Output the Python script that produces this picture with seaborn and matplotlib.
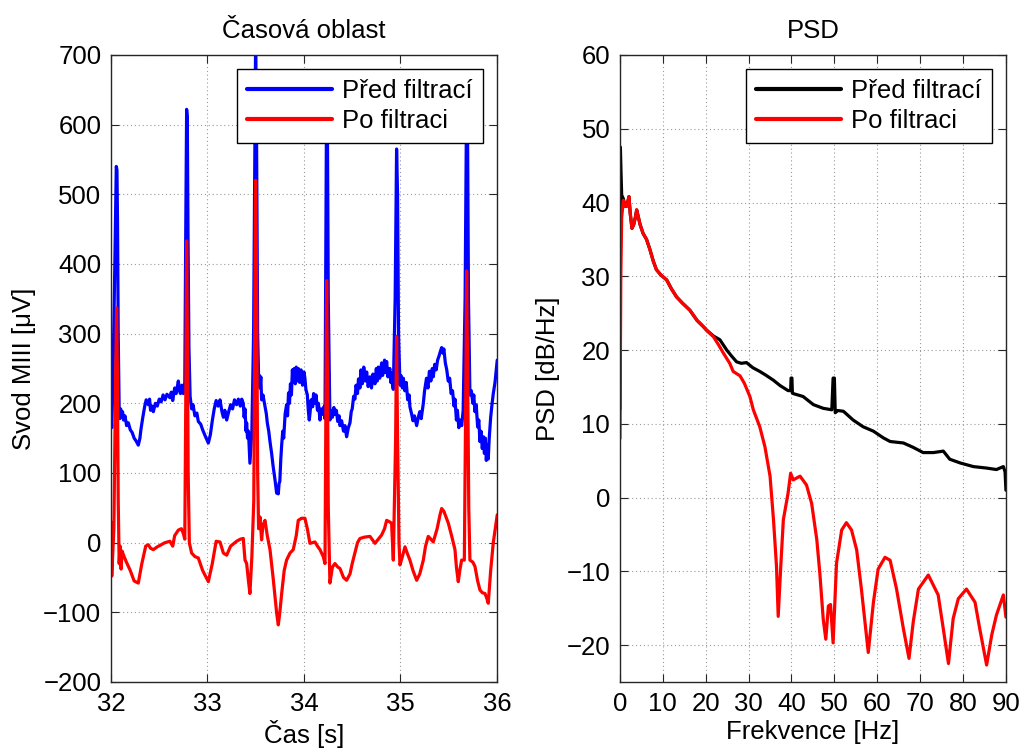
import matplotlib
matplotlib.use("Agg")
import matplotlib.pyplot as plt
import seaborn as sns
import pandas as pd

# ---------------- data: time domain (time [s], value [uV]) ----------------
pred_samples = [
    (32.000, 185), (32.008, 165), (32.020, 230), (32.040, 400), (32.055, 540), (32.062, 535),
    (32.068, 460), (32.075, 300), (32.085, 190), (32.092, 178), (32.100, 192), (32.111, 182),
    (32.120, 188), (32.130, 176), (32.145, 182), (32.162, 168), (32.180, 172), (32.200, 162),
    (32.220, 158), (32.240, 150), (32.260, 146), (32.283, 140), (32.300, 150), (32.310, 162),
    (32.330, 180), (32.350, 196), (32.365, 205), (32.387, 198), (32.400, 206), (32.410, 190),
    (32.425, 196), (32.439, 188), (32.460, 200), (32.480, 196), (32.500, 206), (32.520, 202),
    (32.540, 212), (32.560, 205), (32.580, 213), (32.611, 208), (32.625, 216), (32.640, 204),
    (32.660, 222), (32.675, 214), (32.698, 232), (32.710, 218), (32.720, 214), (32.735, 226),
    (32.750, 214), (32.765, 230), (32.775, 450), (32.784, 622), (32.791, 610), (32.798, 450),
    (32.808, 280), (32.820, 210), (32.836, 192), (32.850, 198), (32.870, 182), (32.890, 186),
    (32.905, 174), (32.930, 170), (32.950, 162), (32.980, 152), (33.009, 143), (33.030, 155),
    (33.050, 175), (33.070, 192), (33.090, 204), (33.110, 196), (33.130, 205), (33.150, 188),
    (33.165, 180), (33.180, 190), (33.199, 176), (33.220, 188), (33.240, 198), (33.260, 192),
    (33.280, 205), (33.302, 198), (33.320, 206), (33.340, 196), (33.355, 206), (33.371, 200),
    (33.380, 180), (33.389, 192), (33.400, 160), (33.406, 172), (33.415, 150), (33.425, 160),
    (33.440, 114), (33.460, 160), (33.478, 300), (33.490, 550), (33.499, 720), (33.508, 600),
    (33.520, 300), (33.532, 225), (33.538, 240), (33.544, 222), (33.553, 238), (33.561, 205),
    (33.575, 212), (33.596, 196), (33.610, 185), (33.620, 172), (33.635, 160), (33.648, 145),
    (33.665, 128), (33.680, 110), (33.700, 90), (33.717, 71), (33.725, 80), (33.734, 70),
    (33.742, 85), (33.750, 88), (33.760, 120), (33.769, 140), (33.780, 160), (33.790, 150),
    (33.805, 185), (33.820, 198), (33.830, 182), (33.840, 215), (33.850, 200), (33.860, 228),
    (33.870, 212), (33.880, 248), (33.889, 232), (33.900, 250), (33.910, 228), (33.920, 252),
    (33.930, 232), (33.941, 250), (33.955, 230), (33.970, 248), (33.985, 226), (34.000, 245),
    (34.010, 236), (34.020, 220), (34.035, 212), (34.045, 190), (34.055, 176), (34.062, 185),
    (34.075, 205), (34.090, 195), (34.100, 214), (34.114, 200), (34.125, 212), (34.140, 190),
    (34.150, 200), (34.166, 176), (34.180, 192), (34.200, 184), (34.210, 196), (34.218, 178),
    (34.228, 450), (34.235, 660), (34.243, 600), (34.252, 350), (34.269, 176), (34.280, 190),
    (34.295, 180), (34.310, 194), (34.321, 184), (34.335, 190), (34.350, 174), (34.365, 182),
    (34.373, 168), (34.390, 175), (34.410, 160), (34.425, 168), (34.442, 152), (34.460, 165),
    (34.477, 172), (34.490, 188), (34.500, 192), (34.515, 210), (34.528, 206), (34.540, 226),
    (34.555, 214), (34.565, 235), (34.580, 222), (34.590, 248), (34.605, 228), (34.620, 252),
    (34.635, 232), (34.650, 245), (34.665, 224), (34.684, 238), (34.700, 222), (34.715, 242),
    (34.736, 228), (34.750, 250), (34.760, 232), (34.770, 252), (34.785, 236), (34.805, 258),
    (34.815, 240), (34.835, 262), (34.845, 244), (34.857, 260), (34.870, 238), (34.890, 250),
    (34.900, 230), (34.908, 244), (34.918, 226), (34.926, 220), (34.945, 350), (34.960, 565),
    (34.970, 500), (34.980, 300), (34.995, 226), (35.005, 240), (35.020, 222), (35.030, 236),
    (35.045, 218), (35.060, 230), (35.075, 205), (35.090, 212), (35.098, 195), (35.115, 185),
    (35.130, 175), (35.145, 182), (35.168, 168), (35.185, 180), (35.200, 188), (35.215, 178),
    (35.237, 200), (35.250, 218), (35.270, 236), (35.285, 222), (35.300, 246), (35.315, 232),
    (35.330, 250), (35.340, 238), (35.355, 256), (35.370, 248), (35.385, 262), (35.400, 268),
    (35.415, 275), (35.427, 280), (35.440, 272), (35.450, 278), (35.465, 258), (35.480, 248),
    (35.495, 232), (35.510, 236), (35.525, 214), (35.540, 218), (35.555, 196), (35.565, 206),
    (35.580, 176), (35.590, 190), (35.605, 165), (35.620, 176), (35.635, 168), (35.650, 190),
    (35.670, 350), (35.686, 650), (35.695, 600), (35.705, 350), (35.720, 212), (35.735, 218),
    (35.750, 200), (35.760, 212), (35.772, 188), (35.785, 198), (35.800, 166), (35.812, 176),
    (35.824, 145), (35.835, 160), (35.848, 135), (35.860, 152), (35.870, 128), (35.880, 150),
    (35.890, 118), (35.900, 140), (35.910, 120), (35.920, 150), (35.935, 180), (35.950, 200),
    (35.962, 214), (35.980, 230), (36.003, 262),
]

po_samples = [
    (32.000, 30), (32.008, -48), (32.030, 20), (32.045, 200), (32.058, 337), (32.066, 250),
    (32.075, 60), (32.085, -30), (32.095, -5), (32.105, -38), (32.115, -12), (32.130, -18),
    (32.160, -28), (32.200, -40), (32.240, -55), (32.283, -58), (32.320, -30), (32.360, -5),
    (32.387, -3), (32.410, -8), (32.439, -10), (32.480, -6), (32.520, -3), (32.560, 0),
    (32.611, 2), (32.640, -5), (32.660, 10), (32.698, 18), (32.730, 20), (32.750, 13),
    (32.765, 5), (32.775, 200), (32.784, 433), (32.792, 300), (32.800, 100), (32.812, 0),
    (32.836, -15), (32.870, -20), (32.905, -22), (32.950, -40), (33.009, -56), (33.050, -30),
    (33.090, 2), (33.130, 1), (33.165, -15), (33.199, -18), (33.240, -5), (33.302, 2),
    (33.340, 5), (33.371, 6), (33.389, -25), (33.406, -30), (33.425, -55), (33.440, -73),
    (33.460, -20), (33.480, 60), (33.490, 300), (33.499, 520), (33.508, 400), (33.520, 100),
    (33.530, 20), (33.544, 37), (33.561, 4), (33.575, 25), (33.596, 32), (33.620, 10),
    (33.648, -10), (33.680, -50), (33.717, -101), (33.734, -118), (33.750, -100), (33.769, -73),
    (33.795, -40), (33.820, -25), (33.855, -15), (33.889, -10), (33.920, 10), (33.941, 32),
    (33.975, 35), (34.010, 35), (34.035, 20), (34.062, -1), (34.090, 0), (34.114, 1),
    (34.140, -5), (34.166, -10), (34.200, -20), (34.218, -30), (34.228, 200), (34.235, 376),
    (34.243, 250), (34.252, 50), (34.269, -58), (34.295, -35), (34.321, -30), (34.350, -35),
    (34.373, -37), (34.410, -50), (34.442, -54), (34.477, -45), (34.500, -30), (34.528, -15),
    (34.555, 0), (34.580, 6), (34.630, 8), (34.684, 9), (34.736, -1), (34.770, 5),
    (34.805, 11), (34.835, 20), (34.857, 32), (34.885, 30), (34.908, 28), (34.926, -25),
    (34.950, 150), (34.960, 296), (34.970, 150), (34.985, 0), (34.995, -32), (35.020, -20),
    (35.047, -6), (35.070, -15), (35.098, -25), (35.130, -40), (35.168, -54), (35.200, -45),
    (35.237, -25), (35.260, -5), (35.288, 9), (35.315, 5), (35.340, 1), (35.380, 20),
    (35.410, 40), (35.427, 49), (35.450, 45), (35.496, 28), (35.530, 10), (35.565, -10),
    (35.580, -35), (35.599, -56), (35.615, -40), (35.634, -25), (35.662, -25), (35.676, 200),
    (35.686, 390), (35.696, 250), (35.708, 50), (35.720, -25), (35.750, -28), (35.772, -34),
    (35.800, -55), (35.824, -68), (35.850, -72), (35.876, -73), (35.895, -80), (35.910, -87),
    (35.935, -40), (35.962, 0), (36.003, 40),
]

# ---------------- data: PSD (frequency [Hz], PSD [dB/Hz]) ----------------
f_po = [0, 0.2, 0.4, 0.8, 1.2, 1.6, 2.1, 2.4, 2.8, 3.2, 3.6, 3.9, 4.3, 4.7, 5.4, 6.2, 7.0,
        7.8, 8.5, 9.5, 10.9, 12.0, 13.2, 14.5, 16.3, 18.0, 19.4, 20.5, 21.8, 23.0, 24.1,
        25.6, 26.4, 28.0, 29.0, 30.3, 31.1, 32.6, 33.8, 35.0, 35.8, 36.5, 36.9, 37.5, 38.1,
        39.2, 39.8, 40.4, 42.0, 43.5, 44.7, 45.9, 46.6, 47.4, 48.0, 48.6, 49.1, 49.7, 50.5,
        51.7, 52.8, 54.0, 55.2, 56.3, 57.9, 59.1, 60.2, 61.8, 63.0, 64.5, 66.1, 67.4, 68.4,
        69.6, 71.9, 74.2, 75.4, 76.6, 77.7, 78.9, 80.8, 82.8, 83.9, 85.5, 86.7, 87.8, 89.4, 90.0]
psd_po = [8, 30, 38, 40.3, 39.5, 39.5, 40.8, 38.5, 36.5, 37, 38, 39, 38, 37, 35.8, 35, 33.6,
          32, 30.9, 30.2, 29.5, 28.3, 27.2, 26.4, 25.4, 24, 23.2, 22.5, 21.8, 20.7, 19.6,
          18.2, 17.1, 16.5, 15.5, 13.7, 11.9, 9.6, 6.9, 2.9, -3, -9.3, -16.1, -9.3, -3,
          0.6, 3.3, 2.4, 2.9, 1.7, -0.8, -5.7, -10.2, -16.5, -19.2, -14.7, -14.5, -19.7, -8.9,
          -4.4, -3.4, -4.4, -7.1, -12.4, -21.0, -14.2, -9.7, -8.1, -8.5, -12.4, -17.8, -21.8, -16.8,
          -12.4, -10.5, -13.2, -17.8, -22.5, -16.4, -13.7, -12.4, -14.2, -17.8, -22.7, -18.6, -15.9, -13.2, -16.2]

f_pred = [0, 0.1, 0.25, 0.4, 0.8, 1.2, 1.6, 2.1, 2.4, 2.8, 3.2, 3.6, 3.9, 4.3, 4.7, 5.4, 6.2,
          7.0, 7.8, 8.5, 9.5, 10.9, 12.0, 13.2, 14.5, 16.3, 18.0, 19.4, 20.2, 21.8, 23.3, 24.9,
          26.0, 27.2, 28.3, 29.5, 31.0, 32.6, 34.0, 35.8, 37.3, 39.2, 39.8, 39.9, 40.1, 40.2,
          40.4, 42.7, 45.1, 47.4, 49.4, 49.7, 50.0, 50.2, 50.8, 52.1, 54.4, 56.7, 59.1, 61.4,
          63.0, 66.1, 68.4, 70.7, 73.1, 75.4, 76.9, 79.3, 82.4, 85.5, 87.8, 89.4, 89.8, 90.0]
psd_pred = [12, 47.5, 44, 41, 40.5, 39.5, 39.5, 40.8, 38.5, 36.5, 37, 38, 39, 38, 37, 35.8, 35,
            33.6, 32, 30.9, 30.2, 29.5, 28.3, 27.2, 26.4, 25.4, 24, 23.2, 22.7, 21.9, 21.4, 20,
            19.2, 18.4, 18.2, 18.3, 17.6, 17.1, 16.6, 15.9, 15.2, 14.5, 14.5, 16.2, 16.2, 14.2,
            14.1, 13.7, 12.6, 12.1, 11.9, 16.2, 16.2, 11.5, 11.8, 11.7, 10.5, 9.6, 9.0, 8.1,
            7.6, 7.4, 6.8, 6.1, 6.1, 6.3, 5.2, 4.7, 4.2, 4.0, 3.8, 4.2, 3.5, 1.0]

lbl_pred = "Před filtrací"
lbl_po = "Po filtraci"

t_pred = [p[0] for p in pred_samples]
v_pred = [p[1] for p in pred_samples]
t_po = [p[0] for p in po_samples]
v_po = [p[1] for p in po_samples]

df_time = pd.concat([
    pd.DataFrame({"x": t_pred, "y": v_pred, "s": lbl_pred}),
    pd.DataFrame({"x": t_po, "y": v_po, "s": lbl_po}),
], ignore_index=True)
df_psd = pd.concat([
    pd.DataFrame({"x": f_pred, "y": psd_pred, "s": lbl_pred}),
    pd.DataFrame({"x": f_po, "y": psd_po, "s": lbl_po}),
], ignore_index=True)

sns.set_style("white")
plt.rcParams["font.family"] = ["Liberation Sans", "DejaVu Sans"]
for k in ("text.color", "axes.labelcolor", "xtick.color", "ytick.color"):
    plt.rcParams[k] = "black"
FS = 18.5

fig = plt.figure(figsize=(10.2, 7.52), dpi=100)
ax1 = fig.add_axes([0.1088, 0.0931, 0.3784, 0.8338])
ax2 = fig.add_axes([0.6078, 0.0931, 0.3784, 0.8338])

sns.lineplot(data=df_time, x="x", y="y", hue="s", hue_order=[lbl_pred, lbl_po],
             palette={lbl_pred: "#0000ff", lbl_po: "#ff0000"}, sort=False,
             estimator=None, linewidth=2.3, ax=ax1)
sns.lineplot(data=df_psd, x="x", y="y", hue="s", hue_order=[lbl_pred, lbl_po],
             palette={lbl_pred: "#000000", lbl_po: "#ff0000"}, sort=False,
             estimator=None, linewidth=2.3, ax=ax2)

def style(ax, xlim, ylim, xticks, yticks, title, xlabel, ylabel):
    ax.set_xlim(*xlim)
    ax.set_ylim(*ylim)
    ax.set_xticks(xticks)
    ax.set_yticks(yticks)
    ax.set_title(title, fontsize=FS, pad=12, color="black")
    ax.set_xlabel(xlabel, fontsize=FS, labelpad=3, color="black")
    ax.set_ylabel(ylabel, fontsize=FS, labelpad=5, color="black")
    ax.grid(True, linestyle=(0, (1, 2.5)), color="#9a9a9a", linewidth=0.8)
    ax.tick_params(direction="in", length=6, width=0.8, labelsize=FS, pad=7,
                   top=True, right=True, bottom=True, left=True,
                   color="#262626", labelcolor="black")
    for sp in ax.spines.values():
        sp.set_color("#262626")
        sp.set_linewidth(1.0)
        sp.set_visible(True)
    leg = ax.legend(loc="upper right", fontsize=FS, handlelength=3.3, handletextpad=0.4,
                    borderpad=0.4, labelspacing=0.2, borderaxespad=0.55,
                    fancybox=False, framealpha=1, edgecolor="black")
    leg.get_frame().set_linewidth(1.0)
    for ln in leg.get_lines():
        ln.set_linewidth(3.0)

style(ax1, (32, 36), (-200, 700), [32, 33, 34, 35, 36], list(range(-200, 701, 100)),
      "Časová oblast", "Čas [s]", "Svod MIII [μV]")
style(ax2, (0, 90), (-25, 60), list(range(0, 91, 10)), list(range(-20, 61, 10)),
      "PSD", "Frekvence [Hz]", "PSD [dB/Hz]")

fig.savefig("out.png", dpi=100)
